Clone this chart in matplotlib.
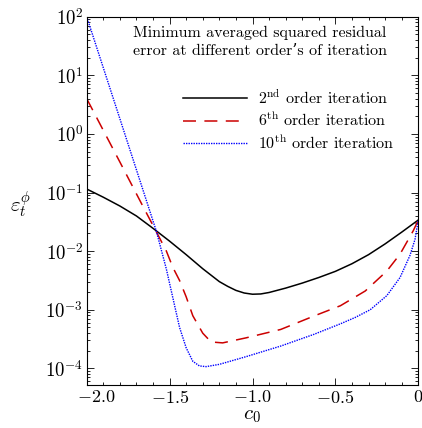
import matplotlib
matplotlib.use('Agg')
import matplotlib.pyplot as plt
import matplotlib.transforms as mtransforms
from matplotlib.ticker import FixedLocator, MultipleLocator, LogLocator, NullFormatter

plt.rcParams['mathtext.fontset'] = 'cm'
plt.rcParams['font.family'] = ['cmr10', 'DejaVu Serif']
plt.rcParams['axes.formatter.use_mathtext'] = True

# ---- data ----
x_2nd = [-2.0, -1.9, -1.8, -1.7, -1.6, -1.5, -1.4, -1.3, -1.2, -1.15, -1.1, -1.05,
         -1.0, -0.95, -0.9, -0.8, -0.7, -0.6, -0.5, -0.4, -0.3, -0.2, -0.1, 0.0]
y_2nd = [0.1148, 0.0832, 0.0589, 0.0398, 0.0245, 0.0148, 0.00871, 0.00501,
         0.00302, 0.00251, 0.00214, 0.00193, 0.00184, 0.00186, 0.00197, 0.00234,
         0.00285, 0.00355, 0.00452, 0.0061, 0.00871, 0.0133, 0.0211, 0.034]

x_6th = [-2.0, -1.8, -1.66, -1.58, -1.52, -1.48, -1.44, -1.40, -1.36, -1.30,
         -1.25, -1.18, -1.04, -0.83, -0.63, -0.47, -0.32, -0.19, -0.11, -0.07,
         -0.03, 0.0]
y_6th = [4.0, 0.332, 0.0575, 0.0214, 0.0101, 0.00525, 0.00316, 0.00166, 7.9e-4,
         3.98e-4, 2.82e-4, 2.72e-4, 3.31e-4, 4.61e-4, 7.8e-4, 1.17e-3, 2.09e-3,
         4.57e-3, 8.9e-3, 0.0141, 0.0224, 0.034]

x_10th = [-2.0, -1.8, -1.58, -1.52, -1.48, -1.44, -1.40, -1.36, -1.32, -1.28,
          -1.20, -1.04, -0.83, -0.63, -0.47, -0.38, -0.29, -0.19, -0.11, -0.05,
          -0.02, 0.0]
y_10th = [100.0, 1.82, 0.0219, 0.0050, 0.00158, 5.0e-4, 2.24e-4, 1.32e-4, 1.10e-4,
          1.07e-4, 1.17e-4, 1.58e-4, 2.40e-4, 3.80e-4, 5.75e-4, 7.4e-4, 1.0e-3,
          1.74e-3, 3.55e-3, 8.5e-3, 0.0158, 0.034]

labels = [r'$2^{\mathrm{nd}}$ order iteration',
          r'$6^{\mathrm{th}}$ order iteration',
          r'$10^{\mathrm{th}}$ order iteration']

x_ticks = [-2.0, -1.5, -1.0, -0.5, 0.0]
x_ticklabels = [r'$-2.0$', r'$-1.5$', r'$-1.0$', r'$-0.5$', r'$0$']
y_ticks = [1e-4, 1e-3, 1e-2, 1e-1, 1e0, 1e1, 1e2]
y_ticklabels = [r'$10^{-4}$', r'$10^{-3}$', r'$10^{-2}$', r'$10^{-1}$',
                r'$10^{0}$', r'$10^{1}$', r'$10^{2}$']

title_lines = ['Minimum averaged squared residual',
               'error at different order\u2019s of iteration']

# ---- figure ----
W, H = 422, 428
fig = plt.figure(figsize=(W / 100, H / 100), dpi=100)
ax = fig.add_axes([86.7 / W, 1 - 385 / H, (418.3 - 86.7) / W, (385 - 16.7) / H])

ax.plot(x_2nd, y_2nd, color='black', lw=1.1, label=labels[0])
ax.plot(x_6th, y_6th, color='#cc0000', lw=1.1, dashes=(8.5, 5.5), label=labels[1])
ax.plot(x_10th, y_10th, color='blue', lw=1.0, linestyle=(0, (1, 0.8)), label=labels[2])

ax.set_yscale('log')
ax.set_xlim(-2.0, 0.0)
ax.set_ylim(5.2e-5, 100)

ax.xaxis.set_major_locator(FixedLocator(x_ticks))
ax.set_xticklabels(x_ticklabels, fontsize=13)
ax.xaxis.set_minor_locator(MultipleLocator(0.1))
ax.yaxis.set_major_locator(FixedLocator(y_ticks))
ax.set_yticklabels(y_ticklabels, fontsize=13.5)
ax.yaxis.set_minor_locator(LogLocator(base=10, subs=range(2, 10), numticks=20))
ax.yaxis.set_minor_formatter(NullFormatter())

ax.tick_params(which='both', direction='in', top=True, right=True, width=0.6)
ax.tick_params(which='major', length=5)
ax.tick_params(which='minor', length=2.5)
ax.tick_params(axis='x', which='major', pad=3)
ax.tick_params(axis='y', which='major', pad=2.5)
for s in ax.spines.values():
    s.set_linewidth(0.8)

# shift first x tick label to the right, as in the reference
lab0 = ax.xaxis.get_major_ticks()[0].label1
lab0.set_transform(lab0.get_transform() + mtransforms.ScaledTranslation(10 / 100, 0, fig.dpi_scale_trans))

fig.text(252 / W, 1 - 416 / H, r'$c_0$', fontsize=15, ha='center', va='center')
fig.text(21 / W, 1 - 205 / H, r'$\varepsilon_t^{\phi}$', fontsize=15, ha='center', va='center')

fig.text(259.7 / W, 1 - 36.7 / H, title_lines[0], fontsize=11.5, ha='center', va='baseline')
fig.text(259.7 / W, 1 - 55 / H, title_lines[1], fontsize=11.5, ha='center', va='baseline')

leg = ax.legend(loc='center left', bbox_to_anchor=(182.7 / W, 1 - 120 / H),
                bbox_transform=fig.transFigure, frameon=False, fontsize=11.5,
                handlelength=4.0, handletextpad=0.7, labelspacing=0.28,
                borderpad=0, borderaxespad=0)

fig.savefig('out.png', dpi=100)
